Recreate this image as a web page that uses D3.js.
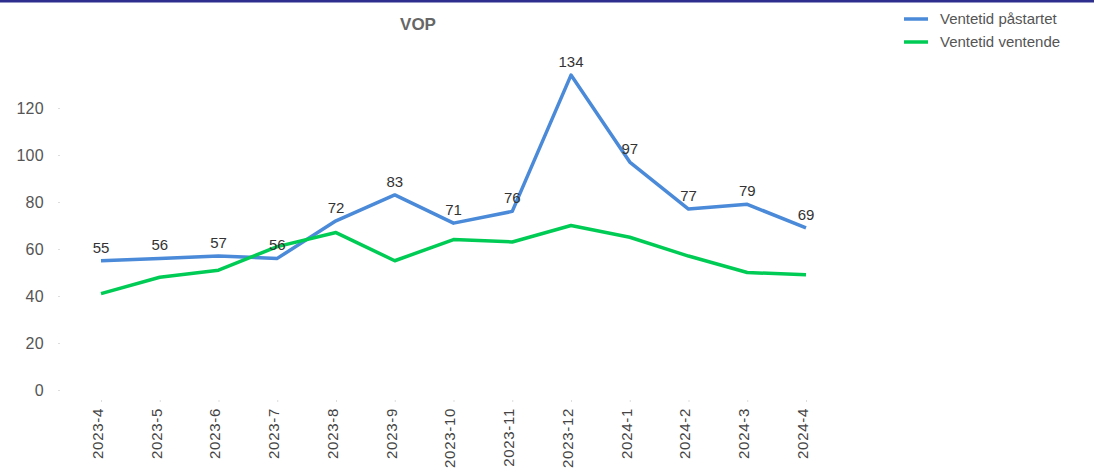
<!DOCTYPE html>
<html><head><meta charset="utf-8">
<script src="https://cdn.jsdelivr.net/npm/d3@7"></script>
<style>
body{margin:0;background:#fff;}
svg{display:block;font-family:"Liberation Sans",Arial,sans-serif;}
</style></head>
<body>
<svg id="c" width="1094" height="472"></svg>
<script>
const categories = ["2023-4","2023-5","2023-6","2023-7","2023-8","2023-9","2023-10","2023-11","2023-12","2024-1","2024-2","2024-3","2024-4"];
const startet = [55,56,57,56,72,83,71,76,134,97,77,79,69];
const ventende = [41,48,51,61,67,55,64,63,70,65,57,50,49];
const yTicks = [0,20,40,60,80,100,120];
const seriesNames = ["Ventetid påstartet","Ventetid ventende"];
const colors = ["#4a8ad8","#00cc55"];

const svg = d3.select("#c");
svg.append("rect").attr("x",0).attr("y",0).attr("width",1094).attr("height",2.5).attr("fill","#2e2e8e");

const x = d3.scalePoint().domain(categories).range([101,806]);
const y = d3.scaleLinear().domain([0,120]).range([390,108]);

// y axis
const ya = svg.append("g").attr("transform","translate(60,0)")
  .call(d3.axisLeft(y).tickValues(yTicks).tickSize(2).tickPadding(14));
ya.select(".domain").remove();
ya.selectAll(".tick line").attr("stroke","#ddd");
ya.selectAll("text").attr("fill","#555").style("font-size","16px").style("letter-spacing","0.3px");

// x axis
const xa = svg.append("g").attr("transform","translate(0,400)")
  .call(d3.axisBottom(x).tickSize(2).tickPadding(6));
xa.select(".domain").remove();
xa.selectAll(".tick line").attr("stroke","#ddd");
xa.selectAll("text").attr("fill","#444").style("font-size","15px").style("letter-spacing","0.7px")
  .attr("transform","rotate(-90)").attr("text-anchor","end")
  .attr("x",-8).attr("y",-4).attr("dy","0.35em");

const line = d3.line().x((d,i)=>x(categories[i])).y(d=>y(d));
[startet,ventende].forEach((s,k)=>{
  svg.append("path").datum(s).attr("d",line).attr("fill","none")
    .attr("stroke",colors[k]).attr("stroke-width",3.5).attr("stroke-linejoin","round");
});
// data labels
svg.append("g").selectAll("text").data(startet).join("text")
  .attr("x",(d,i)=>x(categories[i])).attr("y",d=>y(d)-8)
  .attr("text-anchor","middle").attr("fill","#333").style("font-size","15px")
  .text(d=>d);

svg.append("text").attr("x",418).attr("y",30).attr("text-anchor","middle")
  .attr("fill","#666").style("font-size","17px").style("font-weight","bold").text("VOP");

const lg = svg.append("g");
seriesNames.forEach((n,k)=>{
  const yy = 19 + k*23;
  lg.append("line").attr("x1",904).attr("x2",928).attr("y1",yy).attr("y2",yy)
    .attr("stroke",colors[k]).attr("stroke-width",3.5);
  lg.append("text").attr("x",940).attr("y",yy).attr("dy","0.35em")
    .attr("fill","#555").style("font-size","15px").text(n);
});
</script>
</body></html>
